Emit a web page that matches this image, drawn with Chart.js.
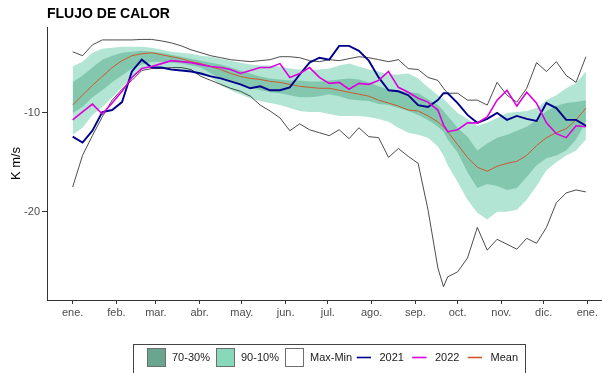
<!DOCTYPE html>
<html>
<head>
<meta charset="utf-8">
<script src="https://cdn.jsdelivr.net/npm/chart.js@4.4.0/dist/chart.umd.min.js"></script>
<style>
  html, body { margin: 0; padding: 0; background: #ffffff; }
  #wrap { width: 602px; height: 373px; }
</style>
</head>
<body>
<div id="wrap"><canvas id="c" width="602" height="373"></canvas></div>
<script>
// Day of year (0 = 1 Jan) of each sample
const days = [0,7,14,21,28,35,42,49,56,63,70,77,84,91,98,105,112,119,126,133,140,147,154,161,168,175,182,189,196,203,210,217,224,231,238,245,252,259,263,266,273,280,287,294,301,308,315,322,329,336,343,350,357,364];

// Month ticks
const monthTicks = [0,31,59,90,120,151,181,212,243,273,304,334,365];
const monthLabels = ['ene.','feb.','mar.','abr.','may.','jun.','jul.','ago.','sep.','oct.','nov.','dic.','ene.'];
const yTicks = [-20, -10];

// Climatology (K m/s)
const maxVals = [-3.8,-4.2,-3.1,-2.6,-2.6,-2.6,-2.6,-2.55,-2.55,-2.7,-2.9,-3.2,-3.6,-3.9,-4.2,-4.4,-4.6,-4.7,-4.8,-4.7,-4.6,-4.3,-4.3,-4.4,-4.7,-4.8,-4.6,-4.7,-4.5,-4.3,-4.4,-4.6,-4.8,-4.6,-5.5,-5.6,-6.4,-6.7,-7.5,-8.0,-8.0,-8.7,-8.7,-9.2,-6.9,-8.2,-8.9,-7.5,-4.9,-5.8,-4.8,-6.2,-6.9,-4.3];
const minVals = [-17.5,-14.3,-12.3,-10.4,-8.7,-7.6,-6.7,-5.7,-5.5,-5.5,-5.4,-5.4,-5.6,-6.3,-6.7,-7.1,-7.5,-7.8,-8.3,-9.2,-9.8,-10.5,-11.8,-11.1,-11.7,-12.0,-12.3,-11.7,-12.6,-11.5,-12.4,-12.5,-14.5,-13.6,-14.4,-15.1,-19.8,-25.7,-27.6,-26.6,-26.1,-24.7,-21.6,-23.9,-22.8,-23.3,-23.8,-22.7,-23.2,-21.6,-19.1,-18.1,-17.8,-18.0];
const p90Vals = [-5.3,-4.8,-3.9,-3.5,-3.4,-3.3,-3.3,-3.3,-3.4,-3.6,-3.8,-3.9,-4.0,-4.2,-4.3,-4.5,-4.7,-4.9,-5.1,-5.2,-5.2,-5.3,-5.5,-5.6,-5.7,-5.6,-5.5,-5.2,-5.0,-5.3,-5.6,-5.8,-6.1,-6.1,-6.0,-6.5,-7.4,-8.2,-8.6,-9.0,-10.0,-10.6,-11.3,-11.0,-10.5,-10.0,-9.9,-9.8,-9.5,-8.7,-8.2,-7.5,-7.0,-5.8];
const p70Vals = [-6.9,-6.2,-5.4,-4.6,-4.2,-3.9,-3.8,-3.7,-3.8,-3.9,-4.1,-4.3,-4.5,-4.7,-4.9,-5.1,-5.4,-5.7,-6.0,-6.3,-6.5,-6.6,-6.7,-6.7,-6.8,-6.8,-6.7,-6.6,-6.5,-6.6,-6.9,-7.3,-7.6,-7.8,-7.9,-8.0,-8.6,-9.2,-9.8,-10.3,-11.5,-12.4,-13.8,-13.1,-12.5,-12.2,-11.8,-11.4,-10.7,-9.8,-9.3,-9.0,-8.9,-8.7];
const p30Vals = [-10.0,-9.4,-8.4,-7.7,-6.9,-6.2,-5.5,-5.1,-4.8,-4.8,-4.9,-5.0,-5.2,-5.4,-6.0,-6.5,-6.8,-7.1,-7.4,-7.7,-7.9,-8.0,-8.2,-8.4,-8.4,-8.3,-8.1,-8.3,-8.6,-8.7,-8.8,-9.1,-9.2,-9.5,-9.8,-10.2,-10.7,-11.4,-11.9,-12.7,-14.0,-16.0,-17.6,-17.2,-17.4,-17.8,-17.6,-16.5,-15.3,-14.6,-14.3,-13.8,-12.7,-10.9];
const p10Vals = [-12.2,-11.5,-10.2,-9.4,-8.4,-7.4,-6.4,-5.6,-5.3,-5.3,-5.4,-5.6,-5.8,-6.2,-6.4,-7.2,-7.7,-8.1,-8.5,-8.8,-9.0,-9.2,-9.5,-9.8,-9.9,-9.9,-10.1,-10.3,-10.3,-10.3,-10.4,-10.6,-10.9,-11.5,-12.0,-12.2,-12.5,-13.4,-14.3,-15.3,-17.0,-18.8,-20.1,-20.8,-20.0,-20.0,-19.8,-18.8,-17.4,-15.8,-15.0,-14.3,-13.8,-12.7];
const meanVals = [-9.2,-8.2,-7.2,-6.3,-5.4,-4.7,-4.2,-4.0,-3.9,-4.1,-4.3,-4.5,-4.8,-5.0,-5.3,-5.6,-6.0,-6.3,-6.5,-6.6,-6.8,-6.9,-7.1,-7.3,-7.4,-7.5,-7.5,-7.7,-7.9,-8.1,-8.3,-8.7,-9.0,-9.3,-9.7,-9.8,-10.3,-10.9,-11.4,-11.9,-13.2,-14.5,-15.5,-15.9,-15.4,-15.1,-14.9,-14.3,-13.3,-12.5,-12.0,-11.6,-10.7,-9.5];

// Yearly series (K m/s)
const vals2021 = [-12.4,-13.0,-11.8,-9.9,-9.7,-8.9,-5.8,-4.6,-5.4,-5.4,-5.6,-5.7,-5.8,-6.0,-6.3,-6.5,-6.8,-7.1,-7.5,-7.3,-7.7,-7.7,-7.4,-6.1,-4.9,-4.4,-4.6,-3.2,-3.2,-3.7,-4.7,-6.4,-7.7,-7.8,-8.2,-9.2,-9.4,-8.7,-8.0,-8.0,-9.0,-10.2,-11.0,-10.6,-10.0,-10.7,-10.3,-10.6,-10.8,-9.0,-9.5,-10.7,-10.7,-11.3];
const vals2022 = [-10.7,-9.9,-9.1,-10.1,-9.0,-7.8,-6.4,-5.5,-5.3,-5.0,-4.7,-4.8,-4.9,-5.1,-5.3,-5.4,-5.6,-6.0,-5.7,-5.4,-5.4,-5.0,-6.4,-6.0,-5.4,-6.4,-7.0,-6.9,-7.6,-7.0,-7.1,-6.7,-5.8,-7.4,-7.9,-8.5,-8.9,-9.7,-11.2,-11.9,-11.7,-11.0,-11.0,-10.4,-8.7,-7.7,-9.3,-7.9,-9.0,-11.0,-12.1,-12.5,-11.3,-11.4];

const COL = {
  band90: '#b2e5d4',
  band70: '#83c8ae',
  key70: '#6aa68f',
  key90: '#88d8bb',
  maxmin: '#1f1f1f',
  y2021: '#00008b',
  y2022: '#dd00dd',
  mean: '#cc5a2c',
  axis: '#333333',
  tick: '#4d4d4d'
};

const pts = arr => days.map((d, i) => ({ x: d, y: arr[i] }));

const lineDs = (label, arr, color, width) => ({
  label, data: pts(arr), borderColor: color, borderWidth: width,
  pointRadius: 0, tension: 0, fill: false
});

// Datasets listed top-most first (Chart.js paints the last index first)
const datasets = [
  lineDs('2022', vals2022, COL.y2022, 1.6),
  lineDs('2021', vals2021, COL.y2021, 1.9),
  lineDs('Mean', meanVals, COL.mean, 1),
  lineDs('Min', minVals, COL.maxmin, 0.8),
  lineDs('Max', maxVals, COL.maxmin, 0.8),
  { label: '70-30%', data: pts(p70Vals), borderWidth: 0, pointRadius: 0, tension: 0,
    backgroundColor: COL.band70, fill: '+1' },
  { label: 'p30', data: pts(p30Vals), borderWidth: 0, pointRadius: 0, tension: 0, fill: false },
  { label: '90-10%', data: pts(p90Vals), borderWidth: 0, pointRadius: 0, tension: 0,
    backgroundColor: COL.band90, fill: '+1' },
  { label: 'p10', data: pts(p10Vals), borderWidth: 0, pointRadius: 0, tension: 0, fill: false }
];

// Legend drawn as a framed row below the plot
const legendKeys = [
  { label: '70-30%', kind: 'box', color: COL.key70, x: 147 },
  { label: '90-10%', kind: 'box', color: COL.key90, x: 216 },
  { label: 'Max-Min', kind: 'box', color: '#ffffff', x: 285 },
  { label: '2021', kind: 'line', color: COL.y2021, x: 354.5 },
  { label: '2022', kind: 'line', color: COL.y2022, x: 410 },
  { label: 'Mean', kind: 'line', color: COL.mean, x: 465.5 }
];

const framedLegend = {
  id: 'framedLegend',
  afterDraw(chart) {
    const ctx = chart.ctx;
    ctx.save();
    ctx.strokeStyle = '#444444';
    ctx.lineWidth = 1;
    ctx.strokeRect(133.5, 344.5, 392, 40);
    const top = 348, size = 19, cy = top + size / 2;
    ctx.font = "11px 'Liberation Sans', Arial, sans-serif";
    ctx.textBaseline = 'middle';
    ctx.fillStyle = '#1a1a1a';
    legendKeys.forEach(k => {
      if (k.kind === 'box') {
        ctx.fillStyle = k.color;
        ctx.fillRect(k.x, top, size, size);
        ctx.strokeStyle = '#6e6e6e';
        ctx.lineWidth = 1;
        ctx.strokeRect(k.x + 0.5, top + 0.5, size - 1, size - 1);
      } else {
        ctx.strokeStyle = k.color;
        ctx.lineWidth = 1.6;
        ctx.beginPath();
        ctx.moveTo(k.x + 2.2, cy);
        ctx.lineTo(k.x + 16.5, cy);
        ctx.stroke();
      }
      ctx.fillStyle = '#1a1a1a';
      ctx.fillText(k.label, k.x + 25, cy + 0.5);
    });
    ctx.restore();
  }
};

Chart.defaults.font.family = "'Liberation Sans', Arial, sans-serif";

new Chart(document.getElementById('c'), {
  type: 'line',
  data: { datasets },
  options: {
    responsive: false,
    animation: false,
    devicePixelRatio: 1,
    layout: { padding: { left: 0, right: 0, top: 0, bottom: 0 } },
    plugins: {
      legend: { display: false },
      tooltip: { enabled: false },
      title: {
        display: true,
        text: 'FLUJO DE CALOR',
        align: 'start',
        fullSize: false,
        color: '#000000',
        font: { size: 14, weight: 'bold' },
        padding: { top: 5.6, bottom: 4.6 }
      }
    },
    scales: {
      x: {
        type: 'linear',
        min: -18.2,
        max: 375.4,
        afterFit: s => { s.height = 73; },
        afterBuildTicks: s => { s.ticks = monthTicks.map(v => ({ value: v })); },
        ticks: {
          autoSkip: false, maxRotation: 0, padding: 2,
          color: COL.tick, font: { size: 11 },
          callback: (v, i) => monthLabels[i]
        },
        grid: { drawOnChartArea: false, drawTicks: true, tickLength: 4, color: COL.axis },
        border: { display: true, color: COL.axis, width: 1 }
      },
      y: {
        min: -28.95,
        max: -1.29,
        afterFit: s => { s.width = 47; },
        afterBuildTicks: s => { s.ticks = yTicks.map(v => ({ value: v })); },
        ticks: { padding: 2, color: COL.tick, font: { size: 11 }, callback: v => String(v) },
        grid: { drawOnChartArea: false, drawTicks: true, tickLength: 5, color: COL.axis },
        border: { display: true, color: COL.axis, width: 1 },
        title: {
          display: true, text: 'K m/s', color: '#000000',
          font: { size: 13 }, padding: { top: 9, bottom: 0 }
        }
      }
    }
  },
  plugins: [framedLegend]
});
</script>
</body>
</html>
